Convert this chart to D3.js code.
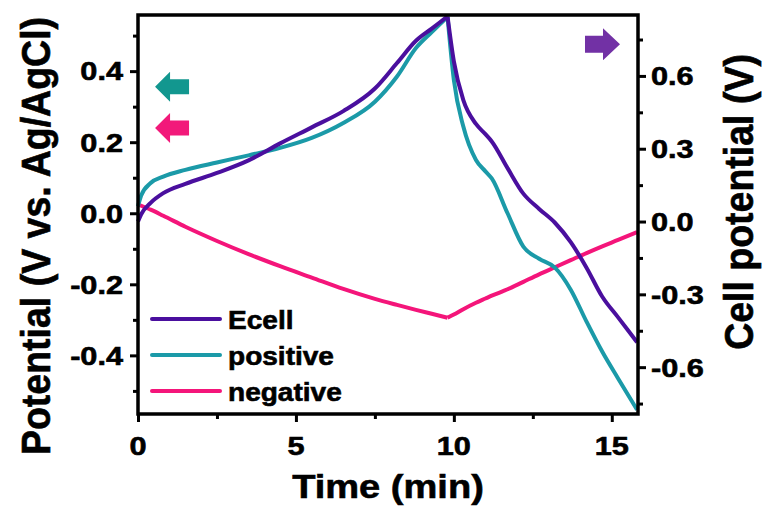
<!DOCTYPE html>
<html>
<head>
<meta charset="utf-8">
<script src="https://cdn.jsdelivr.net/npm/d3@7"></script>
<style>
  body { margin: 0; background: #fff; }
  text { font-family: "Liberation Sans", Arial, sans-serif; font-weight: bold; fill: #000; stroke: #000; stroke-width: 0.6px; }
</style>
</head>
<body>
<div id="chart"></div>
<script>
// charge / discharge curves
const time     = [0, 0.1, 0.4, 0.8, 1.5, 2.5, 3.5, 4.5, 5.5, 6.5, 7.5, 8.2, 8.8, 9.3, 9.8,
                  10.0, 10.3, 10.7, 11.0, 11.2, 11.7, 12.2, 12.7, 13.2, 13.7, 14.2, 14.7, 15.2, 15.8];
const ecell    = [0.0, 0.03, 0.077, 0.117, 0.155, 0.2, 0.252, 0.322, 0.388, 0.455, 0.548, 0.653, 0.745, 0.795, 0.845,
                  0.66, 0.5, 0.402, 0.36, 0.33, 0.22, 0.115, 0.052, -0.005, -0.085, -0.19, -0.31, -0.395, -0.497];
const positive = [0.02, 0.05, 0.085, 0.103, 0.122, 0.143, 0.163, 0.184, 0.212, 0.254, 0.314, 0.385, 0.465, 0.51, 0.553,
                  0.375, 0.244, 0.15, 0.118, 0.098, 0.0, -0.094, -0.128, -0.153, -0.215, -0.305, -0.39, -0.465, -0.553];
const negative = [0.025, 0.021, 0.01, -0.007, -0.038, -0.078, -0.115, -0.149, -0.181, -0.213, -0.241, -0.258, -0.272, -0.283, -0.294,
                  -0.285, -0.27, -0.252, -0.24, -0.232, -0.214, -0.193, -0.172, -0.152, -0.132, -0.112, -0.093, -0.075, -0.053];
const peakIndex = 14;

const xTicks = [0, 5, 10, 15];
const xMinor = [2.5, 7.5, 12.5];
const leftTicks = [-0.4, -0.2, 0, 0.2, 0.4];
const leftMinor = [-0.5, -0.3, -0.1, 0.1, 0.3, 0.5];
const rightTicks = [-0.6, -0.3, 0, 0.3, 0.6];
const rightMinor = [-0.75, -0.45, -0.15, 0.15, 0.45, 0.75];
const legendNames = ["Ecell", "positive", "negative"];

const width = 764, height = 510;
const plot = { left: 138, right: 638, top: 15, bottom: 414 };

const colors = { ecell: "#4a0f9e", positive: "#1b9aa8", negative: "#f4157a" };

const x = d3.scaleLinear().domain([0, 15.83]).range([plot.left, plot.right]);
const yL = d3.scaleLinear().domain([-0.565, 0.558]).range([plot.bottom, plot.top]);
const yR = d3.scaleLinear().domain([-0.793, 0.851]).range([plot.bottom, plot.top]);

const svg = d3.select("#chart").append("svg")
  .attr("width", width)
  .attr("height", height);

// text helper: the figure's lettering is a bit wider than the font
const label = (g, px, py, str, size, anchor, sx, rot) => {
  return g.append("text")
    .attr("transform", `translate(${px},${py}) scale(${sx},1)` + (rot ? ` rotate(${rot})` : ""))
    .attr("text-anchor", anchor)
    .style("font-size", size + "px")
    .text(str);
};

// curves, drawn as charge and discharge pieces so the peak stays sharp
const series = [
  { key: "negative", values: negative, y: yL },
  { key: "positive", values: positive, y: yL },
  { key: "ecell", values: ecell, y: yR }
];

const curves = svg.append("g").attr("fill", "none").attr("stroke-width", 4).attr("stroke-linejoin", "round");
series.forEach((s) => {
  const pts = time.map((t, i) => [t, s.values[i]]);
  const line = d3.line().x((d) => x(d[0])).y((d) => s.y(d[1])).curve(d3.curveMonotoneX);
  [pts.slice(0, peakIndex + 1), pts.slice(peakIndex)].forEach((seg) => {
    curves.append("path")
      .attr("d", line(seg))
      .attr("stroke", colors[s.key]);
  });
});

// ticks
const tickStyle = (g) => {
  g.select(".domain").remove();
  g.selectAll(".tick line").attr("stroke", "#000").attr("stroke-width", 3);
};
svg.append("g").attr("transform", `translate(${plot.left},0)`)
  .call(d3.axisLeft(yL).tickValues(leftTicks).tickSize(8).tickFormat("")).call(tickStyle);
svg.append("g").attr("transform", `translate(${plot.left},0)`)
  .call(d3.axisLeft(yL).tickValues(leftMinor).tickSize(5).tickFormat("")).call(tickStyle);
svg.append("g").attr("transform", `translate(${plot.right},0)`)
  .call(d3.axisRight(yR).tickValues(rightTicks).tickSize(8).tickFormat("")).call(tickStyle);
svg.append("g").attr("transform", `translate(${plot.right},0)`)
  .call(d3.axisRight(yR).tickValues(rightMinor).tickSize(5).tickFormat("")).call(tickStyle);
svg.append("g").attr("transform", `translate(0,${plot.bottom})`)
  .call(d3.axisBottom(x).tickValues(xTicks).tickSize(8).tickFormat("")).call(tickStyle);
svg.append("g").attr("transform", `translate(0,${plot.bottom})`)
  .call(d3.axisBottom(x).tickValues(xMinor).tickSize(5).tickFormat("")).call(tickStyle);

// frame
svg.append("rect")
  .attr("x", plot.left).attr("y", plot.top)
  .attr("width", plot.right - plot.left).attr("height", plot.bottom - plot.top)
  .attr("fill", "none").attr("stroke", "#000").attr("stroke-width", 3.5);

// tick labels
const labels = svg.append("g");
const tickFont = 26;
leftTicks.forEach((v) => label(labels, plot.left - 15, yL(v) + tickFont * 0.36, v.toFixed(1), tickFont, "end", 1.18));
rightTicks.forEach((v) => label(labels, plot.right + 13, yR(v) + tickFont * 0.36, v.toFixed(1), tickFont, "start", 1.18));
xTicks.forEach((v) => label(labels, x(v), 455, String(v), tickFont, "middle", 1.18));

// axis titles
label(labels, 388, 498, "Time (min)", 34, "middle", 1.12);
label(labels, 50, 236, "Potential (V vs. Ag/AgCl)", 37.5, "middle", 1.1, -90);
label(labels, 753, 202, "Cell potential (V)", 37.5, "middle", 1.1, -90);

// legend
const legend = svg.append("g");
legendNames.forEach((name, i) => {
  const ly = 319 + i * 36;
  const key = ["ecell", "positive", "negative"][i];
  legend.append("line")
    .attr("x1", 152).attr("x2", 220).attr("y1", ly).attr("y2", ly)
    .attr("stroke", colors[key]).attr("stroke-width", 4).attr("stroke-linecap", "round");
  label(legend, 228, ly + 9.5, name, 25.5, "start", 1.1);
});

// axis arrows
const arrow = (tipX, tipY, dir, head, halfH, shaft, halfS, fill) => {
  const p = [
    [0, 0], [head, -halfH], [head, -halfS], [head + shaft, -halfS],
    [head + shaft, halfS], [head, halfS], [head, halfH]
  ].map(([a, b]) => [tipX + dir * a, tipY + b]);
  svg.append("path").attr("d", "M" + p.join("L") + "Z").attr("fill", fill);
};
arrow(x(0.54), yL(0.356), 1, 15, 15, 19, 7.5, "#12978f");
arrow(x(0.54), yL(0.24), 1, 15, 15, 19, 7.5, "#f2197a");
arrow(x(15.26), yR(0.73), -1, 17, 16, 18, 8.5, "#7231a5");
</script>
</body>
</html>
